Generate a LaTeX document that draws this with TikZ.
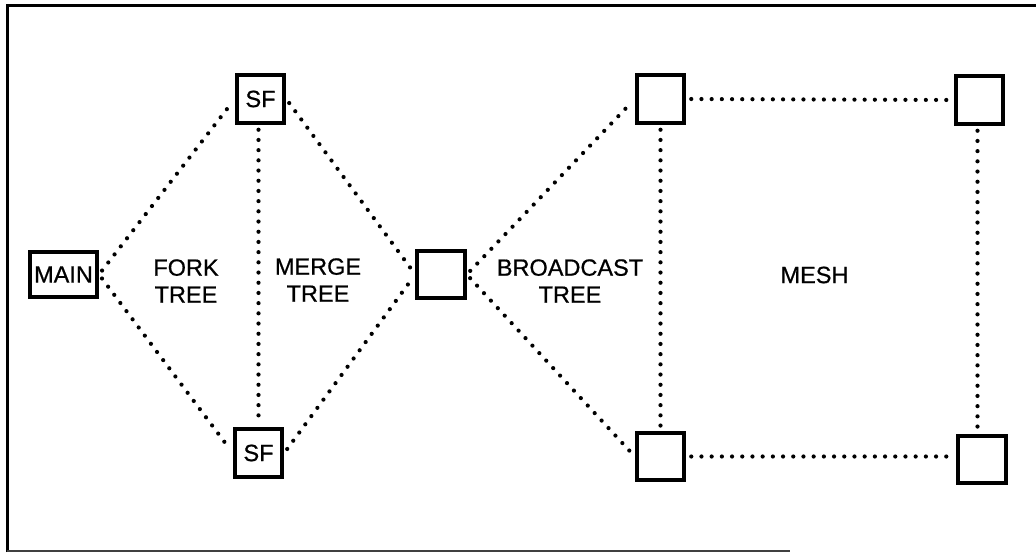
\documentclass[tikz,border=0pt]{standalone}
\usepackage{fontspec}
\setmainfont{Liberation Sans}
\newfontfamily\labfont{Liberation Sans}[FakeBold=0.7]
\begin{document}
\begin{tikzpicture}[x=1pt,y=-1pt,
  box/.style={draw=black,line width=4pt,minimum width=47.5pt,minimum height=47.5pt,inner sep=0pt,
    font=\labfont\fontsize{23.5}{27}\selectfont},
  lbl/.style={align=center,inner sep=0pt,font=\labfont\fontsize{23.5}{27}\selectfont},
  link/.style={line width=4.2pt,line cap=round,dash pattern=on 0pt off 10.2pt,shorten <=5pt,shorten >=5pt}]
\useasboundingbox (0,0) rectangle (1036,553);
% frame
\draw[line width=3pt] (7,552) -- (7,6) -- (1036,6);
\draw[line width=2pt,black!75] (7,551) -- (790,551);
% nodes
\node[box,minimum width=67pt,minimum height=45pt] (main) at (63.5,274.5) {MAIN};
\node[box] (sft) at (260.5,99) {SF};
\node[box] (sfb) at (258.5,453) {SF};
\node[box] (mid) at (441,274.5) {};
\node[box] (bt) at (660.5,99) {};
\node[box] (bb) at (660.5,456.5) {};
\node[box] (tr) at (979.5,100) {};
\node[box] (br) at (982,459.5) {};
% labels
\node[lbl] (fork) at (186,281) {FORK\\TREE};
\node[lbl] (merge) at (318,280) {MERGE\\TREE};
\node[lbl] (bcast) at (570,281) {BROADCAST\\TREE};
\node[lbl] (mesh) at (814.5,275) {MESH};
% connectors
\draw[link] (main.east) -- (sft.west);
\draw[link] (main.east) -- (sfb.west);
\draw[link] ([xshift=-2pt]sft.south) -- ([xshift=-2pt]sft.south |- sfb.north);
\draw[link] (sft.east) -- (mid.west);
\draw[link] (sfb.east) -- (mid.west);
\draw[link] (mid.east) -- (bt.west);
\draw[link] (mid.east) -- (bb.west);
\draw[link] (bt.south) -- (bb.north);
\draw[link] (bt.east) -- (tr.west);
\draw[link] (bb.east) -- (bb.east -| br.west);
\draw[link] ([xshift=-2pt]tr.south) -- ([xshift=-2pt]tr.south |- br.north);
\end{tikzpicture}
\end{document}
